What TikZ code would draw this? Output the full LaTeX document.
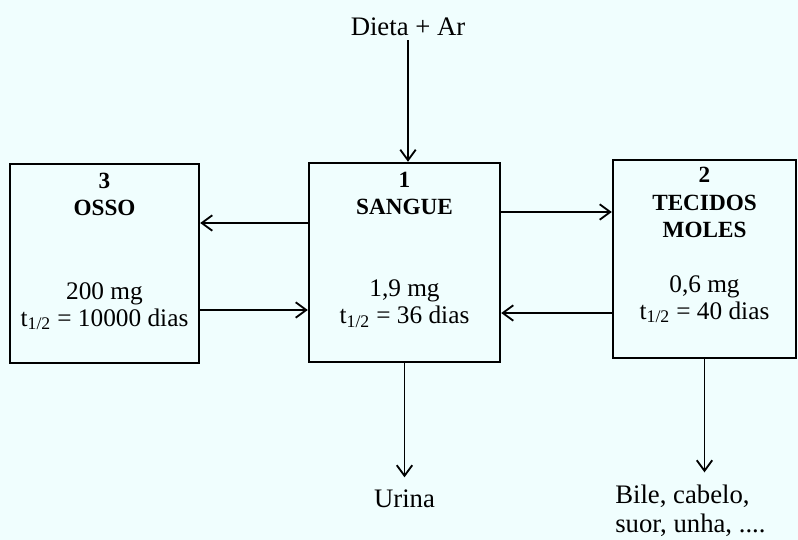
\documentclass[tikz,border=0pt]{standalone}
\usepackage{fontspec}
\setmainfont{Liberation Serif}
\usetikzlibrary{arrows.meta,positioning}
\definecolor{paper}{RGB}{240,254,254}

\begin{document}
\begin{tikzpicture}[
    x=0.025cm, y=-0.025cm,
    box/.style={rectangle, draw, line width=1.7pt, minimum width=4.775cm, minimum height=4.975cm, inner sep=0pt},
    boxtitle/.style={align=center, inner sep=0pt, font=\fontsize{16.5}{19.5}\selectfont\bfseries},
    boxdata/.style={align=center, inner sep=0pt, font=\fontsize{18}{19}\selectfont},
    outtext/.style={font=\fontsize{19}{20.5}\selectfont},
    arrow/.style={-{Straight Barb[length=7.5pt,width=11pt,line width=1.3pt]}, line width=1.4pt}
]
    \path[use as bounding box, fill=paper] (0,0) rectangle (798,540);

    % Compartments
    \node[box, minimum width=4.725cm] (osso) at (104.5,263.5) {};
    \node[box] (sangue) at (404.5,262.5) {};
    \node[box, minimum width=4.575cm, minimum height=4.95cm] (tecidos) at (704.5,259) {};

    \node[boxtitle, below=7pt of osso.north] (ossotitle) {3\\OSSO};
    \node[boxdata, below=85pt of osso.north] (ossodata) {200 mg\\t\textsubscript{1/2} = 10000 dias};

    \node[boxtitle, below=7pt of sangue.north] (sanguetitle) {1\\SANGUE};
    \node[boxdata, below=84pt of sangue.north] (sanguedata) {1,9 mg\\t\textsubscript{1/2} = 36 dias};

    \node[boxtitle, below=6pt of tecidos.north] (tecidostitle) {2\\TECIDOS\\MOLES};
    \node[boxdata, below=83pt of tecidos.north] (tecidosdata) {0,6 mg\\t\textsubscript{1/2} = 40 dias};

    % Inputs and outputs
    \node[outtext, anchor=base] (dieta) at (408,35) {Dieta + Ar};
    \node[outtext, anchor=base] (urina) at (sangue.south |- 0,507) {Urina};
    \node[outtext, anchor=north west, align=left, inner sep=0pt] (bile) at (615,485) {Bile, cabelo,\\suor, unha, ....};

    % Edges
    \draw[arrow] (dieta) -- (dieta |- sangue.north);
    \draw[arrow, shorten >=5pt] (sangue) -- (urina);
    \draw[arrow, shorten >=9pt] (tecidos.south) -- (tecidos.south |- bile.north);

    \draw[arrow] (sangue.west |- 0,223) -- (osso.east |- 0,223);
    \draw[arrow] (osso.east |- 0,310) -- (sangue.west |- 0,310);
    \draw[arrow] (sangue.east |- 0,212) -- (tecidos.west |- 0,212);
    \draw[arrow] (tecidos.west |- 0,313) -- (sangue.east |- 0,313);
\end{tikzpicture}
\end{document}
